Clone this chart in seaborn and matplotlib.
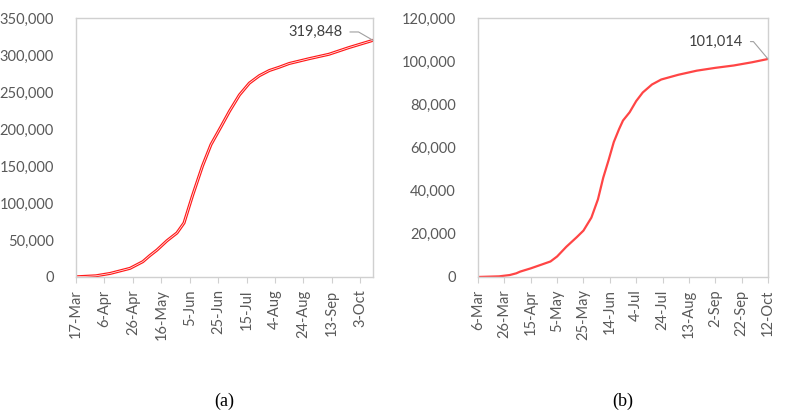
import matplotlib
matplotlib.use("Agg")
import matplotlib.pyplot as plt
import matplotlib.ticker as mticker
import seaborn as sns
import pandas as pd

# ---- data (a) ----
dates_a = ["2020-03-17", "2020-03-31", "2020-04-10", "2020-04-24", "2020-05-03",
           "2020-05-08", "2020-05-13", "2020-05-20", "2020-05-27", "2020-06-01",
           "2020-06-07", "2020-06-14", "2020-06-20", "2020-06-27", "2020-07-03",
           "2020-07-10", "2020-07-17", "2020-07-24", "2020-07-31", "2020-08-07",
           "2020-08-14", "2020-08-28", "2020-09-11", "2020-09-25", "2020-10-12"]
cases_a = [240, 1600, 4800, 11700, 20700,
           29000, 36500, 49000, 59500, 73000,
           110000, 150000, 179000, 203000, 224000,
           246000, 262000, 272000, 279000, 283500,
           288500, 295000, 301000, 310000, 319848]
ticks_a = ["2020-03-17", "2020-04-06", "2020-04-26", "2020-05-16", "2020-06-05",
           "2020-06-25", "2020-07-15", "2020-08-04", "2020-08-24", "2020-09-13",
           "2020-10-03"]
ticklabels_a = ["17-Mar", "6-Apr", "26-Apr", "16-May", "5-Jun", "25-Jun",
                "15-Jul", "4-Aug", "24-Aug", "13-Sep", "3-Oct"]

# ---- data (b) ----
dates_b = ["2020-03-06", "2020-03-22", "2020-03-30", "2020-04-04", "2020-04-07",
           "2020-04-15", "2020-04-23", "2020-04-30", "2020-05-05", "2020-05-12",
           "2020-05-20", "2020-05-25", "2020-05-31", "2020-06-05", "2020-06-09",
           "2020-06-13", "2020-06-17", "2020-06-21", "2020-06-24", "2020-06-29",
           "2020-07-04", "2020-07-09", "2020-07-16", "2020-07-23", "2020-08-05",
           "2020-08-19", "2020-09-02", "2020-09-16", "2020-09-30", "2020-10-12"]
cases_b = [15, 300, 900, 1700, 2500,
           4000, 5700, 7200, 9500, 14000,
           18500, 21500, 27500, 36000, 46000,
           54000, 62500, 68500, 72500, 76300,
           81500, 85500, 89200, 91500, 93700,
           95600, 96900, 98000, 99500, 101014]
ticks_b = ["2020-03-06", "2020-03-26", "2020-04-15", "2020-05-05", "2020-05-25",
           "2020-06-14", "2020-07-04", "2020-07-24", "2020-08-13", "2020-09-02",
           "2020-09-22", "2020-10-12"]
ticklabels_b = ["6-Mar", "26-Mar", "15-Apr", "5-May", "25-May", "14-Jun",
                "4-Jul", "24-Jul", "13-Aug", "2-Sep", "22-Sep", "12-Oct"]

sns.set_theme(style="white")
plt.rcParams["font.family"] = ["Lato", "DejaVu Sans"]

fig = plt.figure(figsize=(7.87, 4.13), dpi=100)
ax_a = fig.add_axes([76 / 787, 1 - 277 / 413, 297 / 787, 259 / 413])
ax_b = fig.add_axes([478 / 787, 1 - 277 / 413, 290 / 787, 259 / 413])

df_a = pd.DataFrame({"date": pd.to_datetime(dates_a), "cases": cases_a})
df_b = pd.DataFrame({"date": pd.to_datetime(dates_b), "cases": cases_b})

sns.lineplot(data=df_a, x="date", y="cases", ax=ax_a, color="#FF1A1A", lw=2.2)
sns.lineplot(data=df_a, x="date", y="cases", ax=ax_a, color="white", lw=0.5)
sns.lineplot(data=df_b, x="date", y="cases", ax=ax_b, color="#FF4545", lw=1.6)

tick_col = "#595959"
spine_col = "#D0D0D0"


def style(ax, df, ticks, labels, ymax, ystep, label_txt, caption, off, angB):
    ax.set_xlim(df["date"].iloc[0], df["date"].iloc[-1])
    ax.set_ylim(0, ymax)
    ax.set_xticks(pd.to_datetime(ticks))
    ax.set_xticklabels(labels, rotation=90)
    ax.yaxis.set_major_locator(mticker.MultipleLocator(ystep))
    ax.yaxis.set_major_formatter(mticker.FuncFormatter(lambda v, p: f"{v:,.0f}"))
    ax.set_xlabel("")
    ax.set_ylabel("")
    for s in ax.spines.values():
        s.set_visible(True)
        s.set_color(spine_col)
        s.set_linewidth(1.0)
    ax.tick_params(axis="x", bottom=True, length=4, width=0.8, color=spine_col,
                   labelsize=10.5, labelcolor=tick_col, pad=5)
    ax.tick_params(axis="y", left=False, labelsize=10.5, labelcolor=tick_col, pad=10)
    # data label with leader line
    x_end = df["date"].iloc[-1]
    y_end = df["cases"].iloc[-1]
    ax.annotate(label_txt, xy=(x_end, y_end), xycoords="data",
                xytext=off, textcoords="offset points",
                ha="right", va="center", fontsize=10.5, color="#404040",
                annotation_clip=False,
                arrowprops=dict(arrowstyle="-", color="#A0A0A0", lw=0.8,
                                connectionstyle=f"angle,angleA=0,angleB={angB},rad=0",
                                shrinkA=3, shrinkB=0))
    pos = ax.get_position()
    fig.text((pos.x0 + pos.x1) / 2, 1 - 401 / 413,
             caption, ha="center", va="center", fontsize=13,
             family=["Liberation Serif", "DejaVu Serif"], color="black")


style(ax_a, df_a, ticks_a, ticklabels_a, 350000, 50000, "319,848", "(a)", (-22, 6), 150)
style(ax_b, df_b, ticks_b, ticklabels_b, 120000, 20000, "101,014", "(b)", (-18, 12.5), 130)

fig.savefig("out.png", dpi=100, facecolor="white")
